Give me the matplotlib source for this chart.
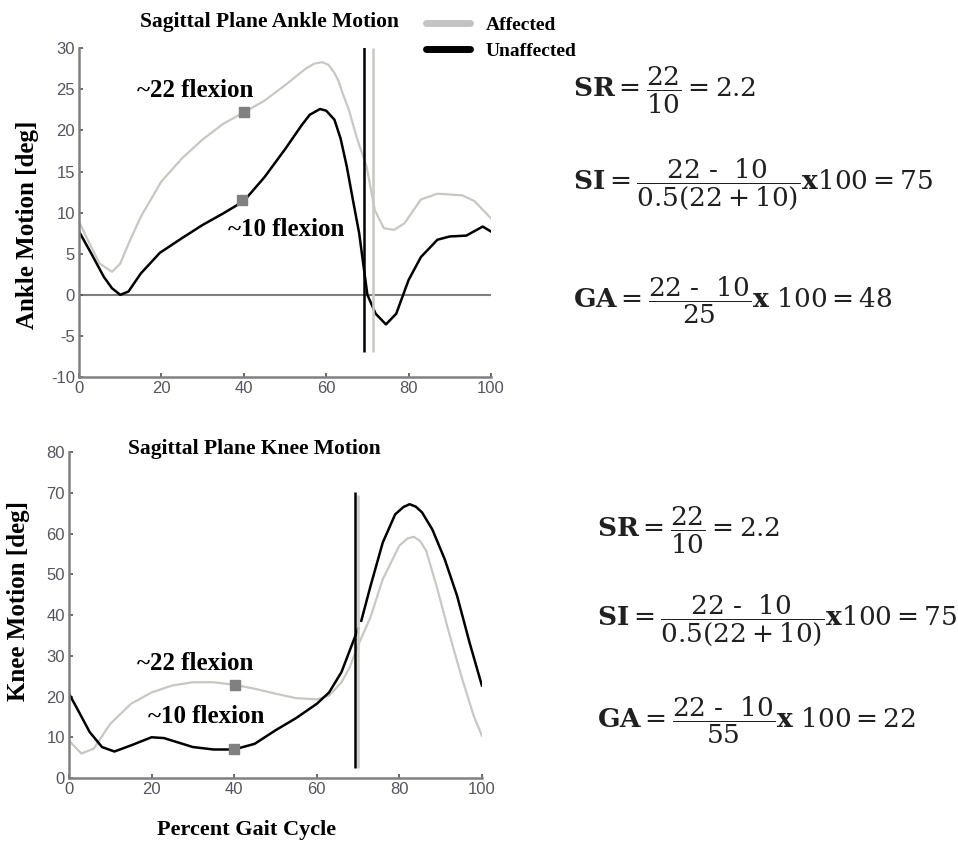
import numpy as np
import matplotlib.pyplot as plt
from matplotlib.lines import Line2D

plt.rcParams['mathtext.fontset'] = 'dejavuserif'
plt.rcParams['axes.unicode_minus'] = False

# ankle motion
ank_x_unaff = [0, 3, 6, 8, 10, 12, 15, 19.6, 25, 30, 35, 40, 45, 50, 54, 56, 58.5, 60, 62, 63.5, 65, 66.5, 68, 70, 72, 74.5, 77, 80, 83, 87, 90, 94, 98, 100]
ank_unaff = [7.7, 5.0, 2.2, 0.8, 0.0, 0.4, 2.6, 5.1, 6.9, 8.5, 9.9, 11.4, 14.3, 17.7, 20.6, 21.9, 22.6, 22.4, 21.3, 19.0, 15.6, 11.5, 7.5, 0.0, -2.3, -3.6, -2.3, 1.8, 4.6, 6.7, 7.1, 7.2, 8.3, 7.7]
ank_x_aff = [0, 2, 5, 8, 10, 12, 15, 20, 25, 30, 35, 40, 45, 50, 55, 57, 59, 60.5, 62, 63, 64, 65.5, 67.5, 69.8, 71.8, 74, 76.5, 79, 83, 87, 93, 96, 100]
ank_aff = [8.9, 6.8, 3.8, 2.8, 3.8, 6.2, 9.5, 13.8, 16.6, 18.9, 20.8, 22.2, 23.6, 25.5, 27.5, 28.1, 28.3, 28.0, 27.0, 26.0, 24.5, 22.5, 19.0, 15.6, 10.3, 8.1, 7.9, 8.7, 11.6, 12.3, 12.1, 11.4, 9.3]

# knee motion
knee_x_unaff = [0, 2, 5, 8, 11, 15, 20, 23, 30, 35, 40, 45, 50, 55, 60, 63, 66, 68, 70]
knee_unaff = [20.7, 17.0, 11.3, 7.6, 6.5, 8.0, 10.0, 9.8, 7.6, 7.0, 7.0, 8.4, 11.7, 14.7, 18.2, 21.0, 26.0, 31.3, 36.6]
knee_x_unaff2 = [70.8, 73, 76, 79, 81, 82.5, 84, 85.5, 88, 91, 94, 97, 100]
knee_unaff2 = [38.6, 47.0, 57.8, 64.7, 66.5, 67.2, 66.6, 65.2, 61.0, 53.7, 44.7, 33.3, 22.7]
knee_x_aff = [0, 3, 6, 10, 15, 20, 25, 30, 35, 40, 45, 50, 55, 60, 63, 66, 68, 70, 73, 76, 80, 82, 83.5, 85, 86.5, 89, 92, 95, 98, 100]
knee_aff = [9.2, 6.0, 7.2, 13.3, 18.2, 21.0, 22.7, 23.5, 23.5, 22.9, 21.9, 20.7, 19.6, 19.3, 20.2, 23.5, 27.2, 32.5, 39.4, 48.8, 57.0, 58.8, 59.2, 58.2, 55.8, 47.2, 35.8, 25.1, 15.3, 10.4]

ank_marks_x = [40, 39.5]
ank_marks_y = [22.2, 11.5]
knee_marks_x = [40.2, 40]
knee_marks_y = [22.9, 7.0]

GRAY = '#c8c8c2'
serif = 'Liberation Serif'

fig = plt.figure(figsize=(9.58, 8.41), dpi=100)

def style(ax, yticks):
    for s in ['top', 'right']:
        ax.spines[s].set_visible(False)
    for s in ['left', 'bottom']:
        ax.spines[s].set_color('#808080')
        ax.spines[s].set_linewidth(1.8)
    ax.set_xlim(0, 100)
    ax.set_xticks([0, 20, 40, 60, 80, 100])
    ax.set_yticks(yticks)
    ax.tick_params(direction='in', length=3, width=1.2, color='#505050',
                   labelcolor='#55555f', labelsize=12, pad=3)
    for lab in ax.get_xticklabels() + ax.get_yticklabels():
        lab.set_family('Liberation Sans')

# top: ankle
ax1 = fig.add_axes([0.0825, 0.5517, 0.43, 0.391])
ax1.set_ylim(-10, 30)
style(ax1, range(-10, 31, 5))
ax1.axhline(0, color='#808080', lw=1.5, zorder=1)
ax1.plot(ank_x_aff, ank_aff, color=GRAY, lw=1.6)
ax1.plot(ank_x_unaff, ank_unaff, color='black', lw=1.8)
ax1.vlines(71.4, -7, 30, color=GRAY, lw=1.8)
ax1.vlines(69.2, -7, 30.3, color='black', lw=1.8)
ax1.plot(ank_marks_x, ank_marks_y, 's', color='#808080', ms=7, ls='none')
ax1.text(28.1, 24.8, '~22 flexion', family=serif, weight='bold', fontsize=18, ha='center', va='center')
ax1.text(50.4, 8.0, '~10 flexion', family=serif, weight='bold', fontsize=18, ha='center', va='center')
ax1.set_ylabel('Ankle Motion [deg]', family=serif, weight='bold', fontsize=18)
ax1.yaxis.set_label_coords(-0.097, 0.462)

# bottom: knee
ax2 = fig.add_axes([0.072, 0.0749, 0.431, 0.3876])
ax2.set_ylim(0, 80)
style(ax2, range(0, 81, 10))
ax2.plot(knee_x_aff, knee_aff, color=GRAY, lw=1.6)
ax2.plot(knee_x_unaff, knee_unaff, color='black', lw=1.8)
ax2.plot(knee_x_unaff2, knee_unaff2, color='black', lw=1.8)
ax2.vlines(70.1, 2.4, 69.5, color=GRAY, lw=1.8)
ax2.vlines(69.2, 2.4, 70.2, color='black', lw=1.8)
ax2.plot(knee_marks_x, knee_marks_y, 's', color='#808080', ms=7, ls='none')
ax2.text(30.6, 28.0, '~22 flexion', family=serif, weight='bold', fontsize=18, ha='center', va='center')
ax2.text(33.2, 15.0, '~10 flexion', family=serif, weight='bold', fontsize=18, ha='center', va='center')
ax2.set_ylabel('Knee Motion [deg]', family=serif, weight='bold', fontsize=18)
ax2.yaxis.set_label_coords(-0.094, 0.543)
ax2.set_xlabel('Percent Gait Cycle', family=serif, weight='bold', fontsize=16)
ax2.xaxis.set_label_coords(0.43, -0.13)

fig.text(269 / 958, 1 - 22 / 841, 'Sagittal Plane Ankle Motion', family=serif, weight='bold',
         fontsize=15.5, ha='center', va='center')
fig.text(254 / 958, 1 - 449 / 841, 'Sagittal Plane Knee Motion', family=serif, weight='bold',
         fontsize=15.5, ha='center', va='center')

handles = [Line2D([], [], color='#c4c4c4', lw=5, solid_capstyle='round'),
           Line2D([], [], color='black', lw=5, solid_capstyle='round')]
fig.legend(handles, ['Affected', 'Unaffected'], loc='upper left',
           bbox_to_anchor=(408 / 958, 1 + 1 / 841), frameon=False, handlelength=2.3,
           handletextpad=0.8, labelspacing=0.4,
           prop={'family': serif, 'weight': 'bold', 'size': 14})

# equations
eq_top = [r'$\mathbf{SR} = \dfrac{22}{10} = 2.2$',
          r'$\mathbf{SI} = \dfrac{22\ \text{-}\ \ 10}{0.5(22+10)}\mathbf{x}100 = 75$',
          r'$\mathbf{GA} = \dfrac{22\ \text{-}\ \ 10}{25}\mathbf{x}\ 100 = 48$']
eq_bot = [r'$\mathbf{SR} = \dfrac{22}{10} = 2.2$',
          r'$\mathbf{SI} = \dfrac{22\ \text{-}\ \ 10}{0.5(22+10)}\mathbf{x}100 = 75$',
          r'$\mathbf{GA} = \dfrac{22\ \text{-}\ \ 10}{55}\mathbf{x}\ 100 = 22$']
for s, yy in zip(eq_top, [90, 184, 300]):
    fig.text(573 / 958, 1 - yy / 841, s, fontsize=19, ha='left', va='center', color='#202020')
for s, yy in zip(eq_bot, [530, 620, 720]):
    fig.text(597 / 958, 1 - yy / 841, s, fontsize=19, ha='left', va='center', color='#202020')

fig.savefig('out.png', dpi=100)
